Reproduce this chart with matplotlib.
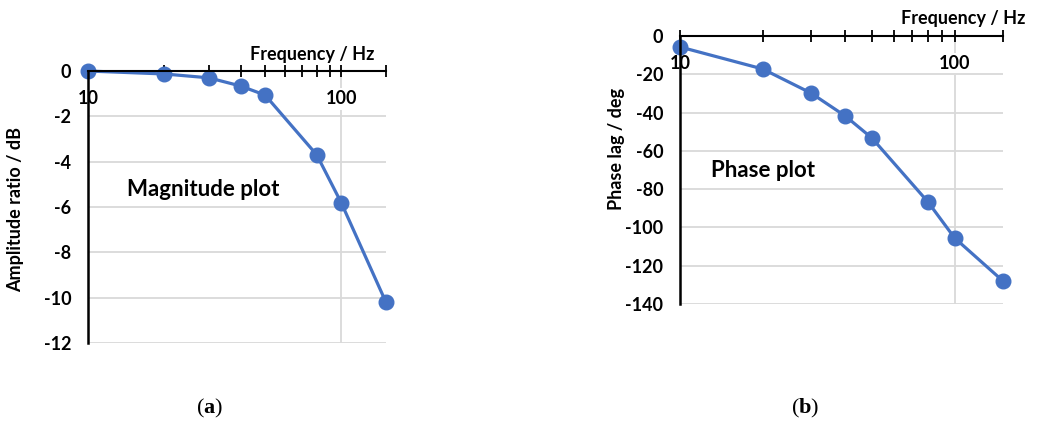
import matplotlib
matplotlib.use("Agg")
import matplotlib.pyplot as plt
from matplotlib.ticker import FixedLocator, NullFormatter

plt.rcParams['font.family'] = ['Lato', 'DejaVu Sans']
plt.rcParams['font.weight'] = 'bold'
plt.rcParams['mathtext.fontset'] = 'custom'
plt.rcParams['mathtext.rm'] = 'Liberation Serif:normal'
plt.rcParams['mathtext.bf'] = 'Liberation Serif:bold'

# data
freq = [10, 20, 30, 40, 50, 80, 100, 150]
magnitude_db = [0.0, -0.13, -0.3, -0.66, -1.06, -3.7, -5.82, -10.2]
phase_deg = [-5.7, -17.2, -29.8, -41.8, -53.3, -86.7, -105.5, -128.0]

mag_yticks = [0, -2, -4, -6, -8, -10, -12]
phase_yticks = [0, -20, -40, -60, -80, -100, -120, -140]
x_major = [10, 100]
x_minor = [20, 30, 40, 50, 60, 70, 80, 90, 150]

BLUE = '#4472C4'
GRID = '#d9d9d9'
FS = 13

fig = plt.figure(figsize=(10.4, 4.24), dpi=100)
ax1 = fig.add_axes([0.0846, 0.191, 0.2865, 0.6415])
ax2 = fig.add_axes([0.6538, 0.283, 0.3106, 0.632])


def style_axes(ax, yticks, ylabel, label_x, label_y):
    ax.set_xscale('log')
    ax.set_xlim(10, 150)
    ax.set_ylim(min(yticks), 0)
    ax.set_yticks(yticks)
    ax.set_yticklabels([str(v) for v in yticks])
    ax.xaxis.set_major_locator(FixedLocator(x_major))
    ax.xaxis.set_minor_locator(FixedLocator(x_minor))
    ax.xaxis.set_minor_formatter(NullFormatter())
    ax.set_xticklabels([str(v) for v in x_major])

    for s in ['top', 'right']:
        ax.spines[s].set_visible(False)
    ax.spines['bottom'].set_position(('data', 0))
    ax.spines['bottom'].set_linewidth(1.5)
    ax.spines['left'].set_linewidth(1.8)

    ax.tick_params(axis='x', which='both', direction='inout', length=8,
                   width=1.3, pad=10, labelsize=FS)
    ax.tick_params(axis='y', length=0, pad=12, labelsize=FS)

    ax.grid(axis='y', color=GRID, linewidth=1.3)
    ax.grid(axis='x', which='major', color=GRID, linewidth=1.3)
    ax.set_axisbelow(True)

    for lbl in ax.get_xticklabels():
        lbl.set_bbox(dict(facecolor='white', edgecolor='none', pad=1.5))

    ax.set_ylabel(ylabel, fontsize=FS, fontweight='bold')
    ax.yaxis.set_label_coords(label_x, label_y)


style_axes(ax1, mag_yticks, 'Amplitude ratio / dB', -0.215, 0.49)
style_axes(ax2, phase_yticks, 'Phase lag / deg', -0.17, 0.58)

ax1.plot(freq, magnitude_db, color=BLUE, linewidth=2.3, marker='o',
         markersize=10.5, clip_on=False, zorder=2)
ax2.plot(freq, phase_deg, color=BLUE, linewidth=2.3, marker='o',
         markersize=10.5, clip_on=False, zorder=2)

ax1.text(0.13, 0.563, 'Magnitude plot', transform=ax1.transAxes,
         fontsize=16, fontweight='bold', va='center', ha='left')
ax2.text(0.095, 0.5, 'Phase plot', transform=ax2.transAxes,
         fontsize=16, fontweight='bold', va='center', ha='left')

ax1.text(0.96, 1.0625, 'Frequency / Hz', transform=ax1.transAxes,
         fontsize=FS, fontweight='bold', ha='right', va='center')
ax2.text(1.068, 1.067, 'Frequency / Hz', transform=ax2.transAxes,
         fontsize=FS, fontweight='bold', ha='right', va='center')

fig.text(210 / 1040, 1 - 408 / 424, r'$(\mathbf{a})$', fontsize=16,
         ha='center', va='center')
fig.text(805 / 1040, 1 - 408 / 424, r'$(\mathbf{b})$', fontsize=16,
         ha='center', va='center')

fig.savefig('out.png', dpi=100)
